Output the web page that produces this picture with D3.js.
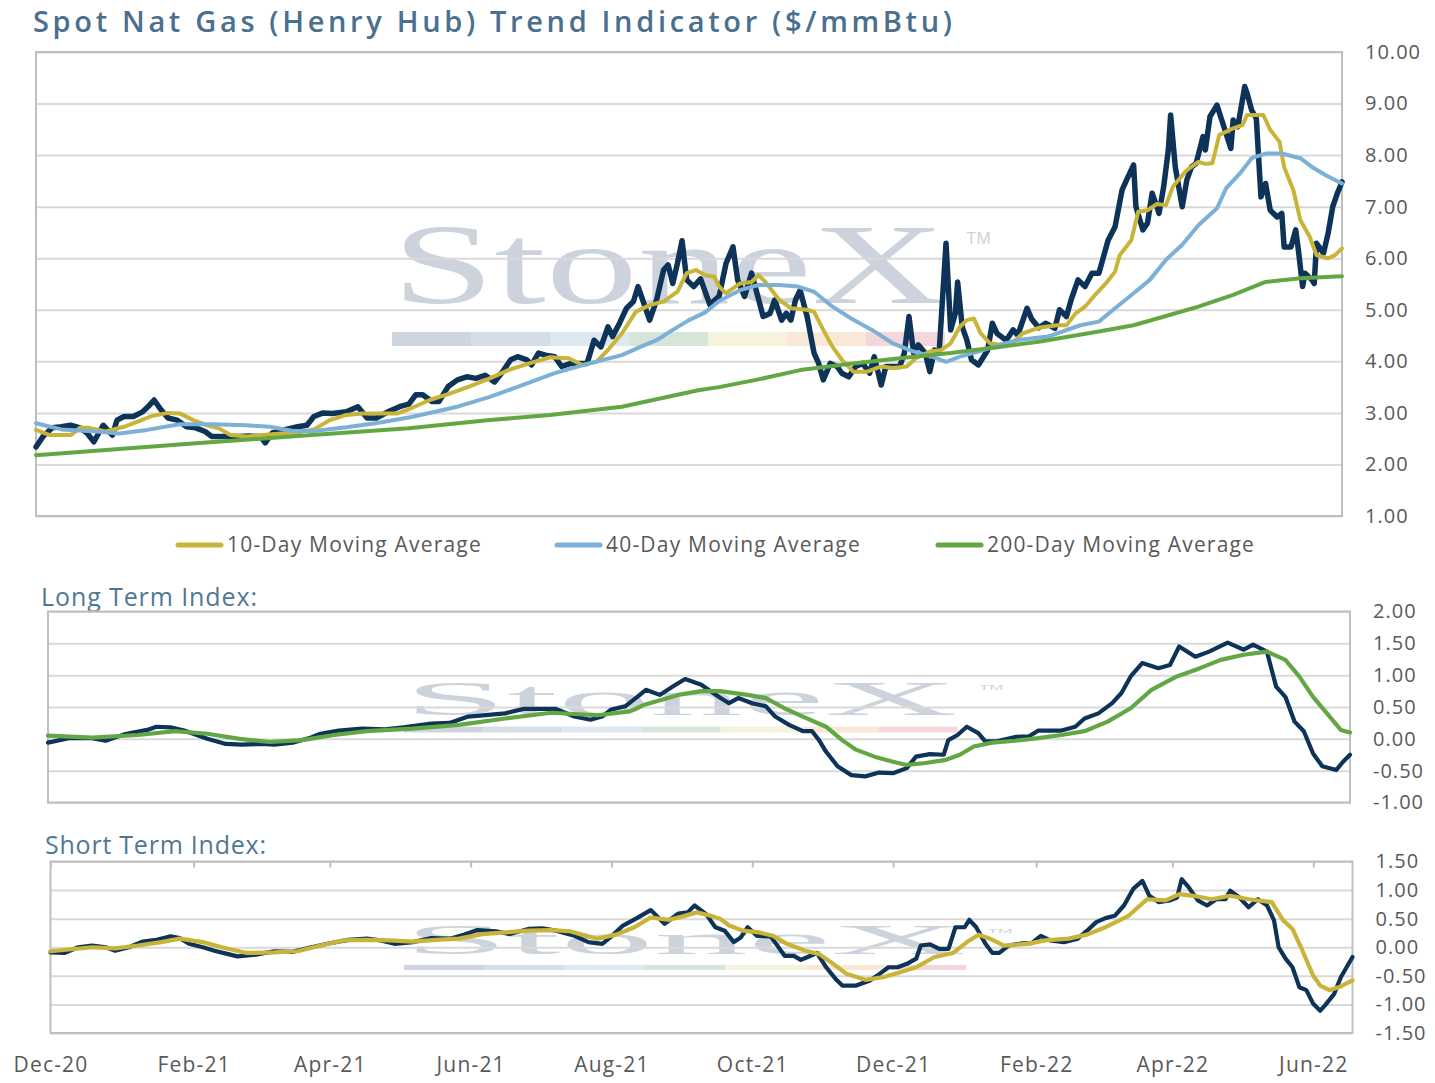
<!DOCTYPE html>
<html>
<head>
<meta charset="utf-8">
<title>Spot Nat Gas (Henry Hub) Trend Indicator</title>
<script src="https://cdn.jsdelivr.net/npm/d3@7"></script>
<style>
	body { margin: 0; background: #fff; }
	svg { display: block; font-family: "Open Sans", sans-serif; }
</style>
</head>
<body>
<div id="container"></div>
<script>

// ==============
//	DATA
// ==============

var spotPrice = [
	["2020-12-01",2.34],["2020-12-04",2.54],["2020-12-08",2.71],["2020-12-12",2.73],["2020-12-16",2.76],["2020-12-20",2.71],
	["2020-12-23",2.61],["2020-12-26",2.44],["2020-12-30",2.76],["2021-01-03",2.57],["2021-01-05",2.86],["2021-01-08",2.93],
	["2021-01-12",2.93],["2021-01-16",3.02],["2021-01-19",3.15],["2021-01-21",3.25],["2021-01-24",3.06],["2021-01-27",2.90],
	["2021-01-31",2.86],["2021-02-04",2.73],["2021-02-08",2.71],["2021-02-12",2.64],["2021-02-15",2.54],["2021-02-20",2.54],
	["2021-02-26",2.54],["2021-03-03",2.55],["2021-03-08",2.54],["2021-03-10",2.42],["2021-03-13",2.61],["2021-03-18",2.67],
	["2021-03-24",2.73],["2021-03-28",2.76],["2021-03-31",2.93],["2021-04-04",3.00],["2021-04-08",2.99],["2021-04-14",3.02],
	["2021-04-19",3.12],["2021-04-23",2.90],["2021-04-27",2.90],["2021-05-02",3.02],["2021-05-07",3.12],["2021-05-11",3.17],
	["2021-05-14",3.35],["2021-05-17",3.35],["2021-05-21",3.22],["2021-05-24",3.22],["2021-05-28",3.51],["2021-06-01",3.64],
	["2021-06-05",3.70],["2021-06-09",3.67],["2021-06-13",3.73],["2021-06-17",3.60],["2021-06-20",3.77],["2021-06-24",4.03],
	["2021-06-27",4.09],["2021-07-01",4.03],["2021-07-03",3.93],["2021-07-06",4.16],["2021-07-09",4.12],["2021-07-13",4.09],
	["2021-07-16",3.90],["2021-07-20",3.96],["2021-07-24",3.96],["2021-07-27",3.96],["2021-07-30",4.41],["2021-08-02",4.28],
	["2021-08-05",4.67],["2021-08-07",4.48],["2021-08-10",4.74],["2021-08-13",5.03],["2021-08-16",5.16],["2021-08-18",5.45],
	["2021-08-20",5.19],["2021-08-23",4.80],["2021-08-26",5.19],["2021-08-29",5.77],["2021-08-31",5.87],["2021-09-02",5.51],
	["2021-09-04",5.90],["2021-09-06",6.34],["2021-09-08",5.58],["2021-09-11",5.45],["2021-09-14",5.60],["2021-09-18",5.10],
	["2021-09-22",5.26],["2021-09-25",5.90],["2021-09-28",6.22],["2021-09-30",5.58],["2021-10-03",5.26],["2021-10-06",5.71],
	["2021-10-08",5.38],["2021-10-11",4.87],["2021-10-14",4.93],["2021-10-16",5.19],["2021-10-19",4.80],["2021-10-21",4.93],
	["2021-10-23",4.80],["2021-10-25",5.19],["2021-10-27",5.38],["2021-10-30",4.87],["2021-11-02",4.16],["2021-11-04",3.96],
	["2021-11-06",3.64],["2021-11-09",3.96],["2021-11-12",3.90],["2021-11-14",3.77],["2021-11-17",3.70],["2021-11-20",3.90],
	["2021-11-23",3.96],["2021-11-26",3.77],["2021-11-28",4.09],["2021-12-01",3.54],["2021-12-03",3.90],["2021-12-06",3.90],
	["2021-12-09",3.90],["2021-12-11",4.16],["2021-12-13",4.87],["2021-12-15",4.16],["2021-12-17",4.32],["2021-12-20",4.16],
	["2021-12-22",3.80],["2021-12-24",4.22],["2021-12-26",4.16],["2021-12-29",6.29],["2021-12-31",4.61],["2022-01-02",4.93],
	["2022-01-03",5.54],["2022-01-05",4.67],["2022-01-07",4.41],["2022-01-09",4.03],["2022-01-12",3.93],["2022-01-16",4.22],
	["2022-01-18",4.74],["2022-01-20",4.54],["2022-01-24",4.41],["2022-01-27",4.61],["2022-01-29",4.51],["2022-02-02",5.03],
	["2022-02-04",4.82],["2022-02-07",4.65],["2022-02-10",4.74],["2022-02-14",4.64],["2022-02-16",5.00],["2022-02-19",4.87],
	["2022-02-21",5.19],["2022-02-24",5.58],["2022-02-27",5.45],["2022-03-02",5.71],["2022-03-05",5.71],["2022-03-07",6.03],
	["2022-03-09",6.35],["2022-03-12",6.61],["2022-03-15",7.32],["2022-03-17",7.52],["2022-03-20",7.81],["2022-03-21",7.00],
	["2022-03-24",6.55],["2022-03-26",6.68],["2022-03-28",7.26],["2022-03-31",6.87],["2022-04-02",7.39],["2022-04-04",8.10],
	["2022-04-05",8.78],["2022-04-07",7.77],["2022-04-10",7.00],["2022-04-12",7.52],["2022-04-14",7.77],["2022-04-16",7.84],
	["2022-04-19",8.36],["2022-04-20",8.10],["2022-04-22",8.75],["2022-04-25",8.97],["2022-04-28",8.55],["2022-05-01",8.13],
	["2022-05-02",8.68],["2022-05-04",8.55],["2022-05-06",9.07],["2022-05-07",9.33],["2022-05-08",9.20],["2022-05-10",8.87],
	["2022-05-12",8.71],["2022-05-14",7.19],["2022-05-16",7.45],["2022-05-18",6.93],["2022-05-21",6.80],["2022-05-23",6.87],
	["2022-05-24",6.22],["2022-05-27",6.22],["2022-05-29",6.55],["2022-05-30",6.22],["2022-06-01",5.45],["2022-06-02",5.71],
	["2022-06-05",5.58],["2022-06-06",5.51],["2022-06-07",6.29],["2022-06-10",6.10],["2022-06-12",6.48],["2022-06-13",6.74],
	["2022-06-14",7.00],["2022-06-16",7.26],["2022-06-18",7.48]
];

var ma10 = [
	["2020-12-01",2.67],["2020-12-07",2.57],["2020-12-16",2.57],["2020-12-20",2.71],["2020-12-24",2.71],["2020-12-31",2.64],
	["2021-01-08",2.73],["2021-01-15",2.85],["2021-01-20",2.94],["2021-01-27",3.00],["2021-02-01",2.99],["2021-02-07",2.86],
	["2021-02-13",2.76],["2021-02-18",2.70],["2021-02-23",2.57],["2021-03-02",2.54],["2021-03-09",2.57],["2021-03-17",2.60],
	["2021-03-24",2.62],["2021-03-31",2.68],["2021-04-07",2.86],["2021-04-14",2.96],["2021-04-21",2.99],["2021-04-28",2.99],
	["2021-05-06",2.99],["2021-05-11",3.07],["2021-05-20",3.25],["2021-05-29",3.38],["2021-06-06",3.51],["2021-06-15",3.67],
	["2021-06-23",3.83],["2021-07-02",3.96],["2021-07-11",4.08],["2021-07-19",4.06],["2021-07-25",3.93],["2021-07-31",3.99],
	["2021-08-05",4.22],["2021-08-11",4.54],["2021-08-17",4.96],["2021-08-23",5.09],["2021-08-29",5.16],["2021-09-04",5.35],
	["2021-09-08",5.71],["2021-09-12",5.77],["2021-09-16",5.67],["2021-09-20",5.64],["2021-09-22",5.45],["2021-09-25",5.32],
	["2021-10-01",5.51],["2021-10-06",5.54],["2021-10-09",5.67],["2021-10-12",5.54],["2021-10-18",5.19],["2021-10-23",5.03],
	["2021-10-30",5.00],["2021-11-02",4.96],["2021-11-06",4.61],["2021-11-10",4.28],["2021-11-14",4.03],["2021-11-19",3.80],
	["2021-11-25",3.80],["2021-12-01",3.90],["2021-12-06",3.87],["2021-12-12",3.90],["2021-12-16",4.06],["2021-12-22",4.19],
	["2021-12-27",4.22],["2021-12-31",4.35],["2022-01-04",4.67],["2022-01-07",4.80],["2022-01-10",4.83],["2022-01-13",4.54],
	["2022-01-17",4.35],["2022-01-21",4.32],["2022-01-25",4.35],["2022-01-28",4.41],["2022-01-31",4.54],["2022-02-07",4.65],
	["2022-02-15",4.70],["2022-02-19",4.70],["2022-02-23",4.93],["2022-02-27",5.06],["2022-03-04",5.32],["2022-03-08",5.51],
	["2022-03-12",5.74],["2022-03-14",6.06],["2022-03-19",6.35],["2022-03-22",6.90],["2022-03-26",6.93],["2022-03-30",7.05],
	["2022-04-03",7.03],["2022-04-06",7.39],["2022-04-12",7.71],["2022-04-17",7.87],["2022-04-20",7.83],["2022-04-23",7.84],
	["2022-04-26",8.39],["2022-05-02",8.52],["2022-05-06",8.58],["2022-05-08",8.78],["2022-05-15",8.78],["2022-05-18",8.49],
	["2022-05-22",8.26],["2022-05-24",7.77],["2022-05-28",7.32],["2022-05-31",6.74],["2022-06-04",6.42],["2022-06-07",6.06],
	["2022-06-12",6.00],["2022-06-15",6.06],["2022-06-18",6.19]
];

var ma40 = [
	["2020-12-01",2.80],["2020-12-12",2.68],["2020-12-27",2.64],["2021-01-06",2.60],["2021-01-18",2.67],["2021-02-01",2.78],
	["2021-02-15",2.78],["2021-03-02",2.76],["2021-03-12",2.73],["2021-03-22",2.65],["2021-03-31",2.65],["2021-04-14",2.72],
	["2021-04-28",2.81],["2021-05-11",2.91],["2021-05-17",2.97],["2021-06-01",3.12],["2021-06-15",3.31],["2021-06-29",3.54],
	["2021-07-13",3.77],["2021-07-28",3.96],["2021-08-11",4.12],["2021-08-19",4.28],["2021-08-26",4.41],["2021-09-02",4.61],
	["2021-09-09",4.80],["2021-09-16",4.95],["2021-09-22",5.17],["2021-10-01",5.38],["2021-10-09",5.48],["2021-10-18",5.48],
	["2021-10-26",5.45],["2021-11-02",5.35],["2021-11-10",5.06],["2021-11-18",4.83],["2021-11-27",4.61],["2021-12-06",4.35],
	["2021-12-15",4.19],["2021-12-23",4.09],["2021-12-29",3.99],["2022-01-04",4.09],["2022-01-12",4.19],["2022-01-21",4.32],
	["2022-01-30",4.42],["2022-02-11",4.48],["2022-02-25",4.70],["2022-03-05",4.77],["2022-03-12",5.03],["2022-03-20",5.32],
	["2022-03-27",5.58],["2022-04-03",5.97],["2022-04-10",6.26],["2022-04-17",6.64],["2022-04-25",6.97],["2022-04-29",7.36],
	["2022-05-05",7.65],["2022-05-10",7.94],["2022-05-16",8.03],["2022-05-23",8.03],["2022-05-31",7.94],["2022-06-05",7.77],
	["2022-06-11",7.61],["2022-06-18",7.45]
];

var ma200 = [
	["2020-12-01",2.18],["2021-02-11",2.42],["2021-03-24",2.55],["2021-05-11",2.70],["2021-06-15",2.86],["2021-07-11",2.96],
	["2021-08-11",3.12],["2021-09-13",3.44],["2021-09-22",3.50],["2021-10-09",3.65],["2021-10-27",3.83],["2021-11-17",3.95],
	["2021-12-09",4.06],["2021-12-31",4.16],["2022-01-21",4.28],["2022-02-07",4.38],["2022-03-05",4.58],["2022-03-20",4.70],
	["2022-04-03",4.88],["2022-04-17",5.06],["2022-05-02",5.29],["2022-05-16",5.54],["2022-05-31",5.61],["2022-06-18",5.65]
];

var longIndex = [
	["2020-12-01",-0.06],["2020-12-10",0.01],["2020-12-20",0.01],["2020-12-26",-0.03],["2021-01-03",0.07],["2021-01-13",0.14],
	["2021-01-17",0.19],["2021-01-23",0.18],["2021-01-29",0.13],["2021-02-08",0.00],["2021-02-16",-0.08],["2021-02-23",-0.09],
	["2021-03-04",-0.08],["2021-03-09",-0.09],["2021-03-17",-0.06],["2021-03-25",0.02],["2021-03-29",0.08],["2021-04-06",0.13],
	["2021-04-16",0.16],["2021-04-26",0.15],["2021-05-04",0.18],["2021-05-16",0.24],["2021-05-24",0.25],["2021-06-01",0.35],
	["2021-06-11",0.38],["2021-06-17",0.40],["2021-06-25",0.47],["2021-07-09",0.47],["2021-07-17",0.35],["2021-07-24",0.30],
	["2021-07-29",0.35],["2021-08-02",0.46],["2021-08-08",0.51],["2021-08-13",0.65],["2021-08-17",0.77],["2021-08-23",0.69],
	["2021-08-29",0.83],["2021-09-03",0.94],["2021-09-10",0.85],["2021-09-18",0.65],["2021-09-22",0.56],["2021-09-26",0.64],
	["2021-10-02",0.56],["2021-10-08",0.51],["2021-10-12",0.35],["2021-10-18",0.22],["2021-10-24",0.12],["2021-10-28",0.12],
	["2021-10-31",-0.02],["2021-11-03",-0.20],["2021-11-08",-0.43],["2021-11-14",-0.57],["2021-11-20",-0.59],["2021-11-26",-0.53],
	["2021-12-02",-0.54],["2021-12-08",-0.46],["2021-12-12",-0.28],["2021-12-18",-0.24],["2021-12-24",-0.25],["2021-12-26",-0.02],
	["2021-12-30",0.06],["2022-01-03",0.19],["2022-01-08",0.09],["2022-01-11",-0.04],["2022-01-16",-0.04],["2022-01-24",0.03],
	["2022-01-30",0.04],["2022-02-03",0.13],["2022-02-13",0.13],["2022-02-19",0.19],["2022-02-23",0.32],["2022-03-01",0.40],
	["2022-03-07",0.56],["2022-03-11",0.72],["2022-03-15",0.98],["2022-03-20",1.19],["2022-03-27",1.11],["2022-04-01",1.16],
	["2022-04-05",1.45],["2022-04-12",1.29],["2022-04-18",1.37],["2022-04-26",1.51],["2022-05-03",1.40],["2022-05-07",1.48],
	["2022-05-13",1.37],["2022-05-17",0.82],["2022-05-21",0.66],["2022-05-25",0.27],["2022-05-29",0.12],["2022-06-02",-0.23],
	["2022-06-06",-0.43],["2022-06-12",-0.49],["2022-06-15",-0.36],["2022-06-18",-0.25]
];

var longSignal = [
	["2020-12-01",0.05],["2020-12-20",0.02],["2021-01-09",0.06],["2021-01-25",0.12],["2021-02-08",0.08],["2021-02-22",0.00],
	["2021-03-07",-0.05],["2021-03-21",-0.02],["2021-04-04",0.06],["2021-04-18",0.12],["2021-05-08",0.16],["2021-05-28",0.22],
	["2021-06-17",0.32],["2021-07-07",0.41],["2021-07-27",0.37],["2021-08-10",0.43],["2021-08-16",0.53],["2021-08-31",0.69],
	["2021-09-10",0.75],["2021-09-18",0.75],["2021-09-30",0.69],["2021-10-08",0.64],["2021-10-16",0.48],["2021-10-24",0.35],
	["2021-11-03",0.19],["2021-11-10",-0.02],["2021-11-16",-0.17],["2021-11-24",-0.28],["2021-12-02",-0.36],["2021-12-08",-0.41],
	["2021-12-16",-0.38],["2021-12-25",-0.33],["2021-12-31",-0.25],["2022-01-06",-0.12],["2022-01-14",-0.06],["2022-01-24",-0.03],
	["2022-02-03",0.01],["2022-02-13",0.06],["2022-02-23",0.12],["2022-03-05",0.27],["2022-03-15",0.48],["2022-03-24",0.77],
	["2022-04-04",0.98],["2022-04-14",1.11],["2022-04-23",1.24],["2022-05-03",1.32],["2022-05-13",1.37],["2022-05-21",1.24],
	["2022-05-27",0.98],["2022-06-02",0.66],["2022-06-08",0.40],["2022-06-14",0.14],["2022-06-18",0.10]
];

var shortIndex = [
	["2020-12-01",-0.09],["2020-12-07",-0.10],["2020-12-13",0.00],["2020-12-19",0.03],["2020-12-25",0.00],["2020-12-29",-0.06],
	["2021-01-04",0.00],["2021-01-10",0.10],["2021-01-16",0.13],["2021-01-22",0.19],["2021-01-26",0.16],["2021-01-30",0.06],
	["2021-02-05",0.00],["2021-02-10",-0.06],["2021-02-16",-0.12],["2021-02-20",-0.16],["2021-02-28",-0.13],["2021-03-08",-0.07],
	["2021-03-16",-0.08],["2021-03-24",0.00],["2021-04-01",0.07],["2021-04-09",0.13],["2021-04-17",0.15],["2021-04-23",0.12],
	["2021-04-29",0.06],["2021-05-07",0.09],["2021-05-15",0.16],["2021-05-23",0.15],["2021-05-29",0.22],["2021-06-04",0.30],
	["2021-06-12",0.28],["2021-06-18",0.23],["2021-06-26",0.32],["2021-07-02",0.33],["2021-07-08",0.29],["2021-07-16",0.20],
	["2021-07-22",0.09],["2021-07-28",0.06],["2021-08-01",0.19],["2021-08-06",0.38],["2021-08-12",0.51],["2021-08-18",0.65],
	["2021-08-24",0.41],["2021-08-30",0.59],["2021-09-03",0.61],["2021-09-06",0.73],["2021-09-11",0.58],["2021-09-15",0.35],
	["2021-09-19",0.29],["2021-09-23",0.09],["2021-09-26",0.17],["2021-09-29",0.35],["2021-10-03",0.20],["2021-10-09",0.19],
	["2021-10-15",-0.15],["2021-10-19",-0.15],["2021-10-22",-0.22],["2021-10-25",-0.17],["2021-10-29",-0.10],["2021-11-02",-0.35],
	["2021-11-06",-0.55],["2021-11-09",-0.67],["2021-11-15",-0.67],["2021-11-21",-0.58],["2021-11-25",-0.47],["2021-11-29",-0.35],
	["2021-12-03",-0.35],["2021-12-07",-0.29],["2021-12-11",-0.20],["2021-12-13",0.03],["2021-12-17",0.05],["2021-12-21",-0.03],
	["2021-12-25",-0.03],["2021-12-28",0.35],["2022-01-01",0.35],["2022-01-03",0.48],["2022-01-06",0.35],["2022-01-10",0.06],
	["2022-01-13",-0.10],["2022-01-16",-0.10],["2022-01-20",0.03],["2022-01-26",0.07],["2022-01-30",0.07],["2022-02-03",0.20],
	["2022-02-07",0.12],["2022-02-13",0.09],["2022-02-19",0.15],["2022-02-23",0.29],["2022-02-27",0.44],["2022-03-03",0.51],
	["2022-03-07",0.55],["2022-03-11",0.73],["2022-03-15",1.02],["2022-03-19",1.16],["2022-03-22",0.90],["2022-03-26",0.79],
	["2022-03-31",0.82],["2022-04-03",0.87],["2022-04-05",1.19],["2022-04-08",1.05],["2022-04-12",0.82],["2022-04-16",0.73],
	["2022-04-20",0.84],["2022-04-24",0.84],["2022-04-26",0.99],["2022-04-30",0.87],["2022-05-04",0.70],["2022-05-08",0.84],
	["2022-05-12",0.73],["2022-05-15",0.47],["2022-05-17",0.00],["2022-05-20",-0.20],["2022-05-23",-0.35],["2022-05-26",-0.70],
	["2022-05-29",-0.75],["2022-06-01",-0.99],["2022-06-04",-1.11],["2022-06-06",-1.02],["2022-06-10",-0.82],["2022-06-13",-0.52],
	["2022-06-18",-0.17]
];

var shortSignal = [
	["2020-12-01",-0.07],["2020-12-19",0.00],["2020-12-29",-0.02],["2021-01-08",0.03],["2021-01-18",0.09],["2021-01-26",0.15],
	["2021-02-05",0.09],["2021-02-14",-0.01],["2021-02-24",-0.10],["2021-03-08",-0.09],["2021-03-18",-0.07],["2021-03-28",0.03],
	["2021-04-07",0.12],["2021-04-17",0.13],["2021-04-27",0.12],["2021-05-07",0.10],["2021-05-17",0.13],["2021-05-27",0.15],
	["2021-06-06",0.23],["2021-06-16",0.26],["2021-06-26",0.29],["2021-07-06",0.30],["2021-07-14",0.28],["2021-07-22",0.19],
	["2021-07-26",0.15],["2021-08-03",0.22],["2021-08-11",0.35],["2021-08-18",0.52],["2021-08-26",0.48],["2021-09-01",0.54],
	["2021-09-07",0.61],["2021-09-13",0.55],["2021-09-17",0.50],["2021-09-21",0.38],["2021-09-27",0.29],["2021-10-04",0.26],
	["2021-10-10",0.20],["2021-10-16",0.06],["2021-10-24",-0.06],["2021-10-30",-0.12],["2021-11-05",-0.29],["2021-11-11",-0.47],
	["2021-11-19",-0.57],["2021-11-27",-0.52],["2021-12-03",-0.45],["2021-12-11",-0.35],["2021-12-19",-0.17],["2021-12-27",-0.10],
	["2022-01-02",0.09],["2022-01-07",0.22],["2022-01-12",0.15],["2022-01-18",0.03],["2022-01-28",0.06],["2022-02-05",0.12],
	["2022-02-15",0.15],["2022-02-23",0.22],["2022-03-03",0.35],["2022-03-13",0.55],["2022-03-21",0.84],["2022-03-29",0.82],
	["2022-04-04",0.93],["2022-04-10",0.90],["2022-04-18",0.84],["2022-04-26",0.90],["2022-05-04",0.84],["2022-05-14",0.79],
	["2022-05-19",0.47],["2022-05-23",0.32],["2022-05-27",-0.03],["2022-06-01",-0.50],["2022-06-04",-0.67],["2022-06-08",-0.75],
	["2022-06-12",-0.70],["2022-06-18",-0.58]
];

var dateRange = ["2020-12-01", "2022-06-18"];
var monthTicks = ["2020-12-01","2021-02-01","2021-04-01","2021-06-01","2021-08-01","2021-10-01",
	"2021-12-01","2022-02-01","2022-04-01","2022-06-01"];
var priceTicks = [1, 2, 3, 4, 5, 6, 7, 8, 9, 10];
var longTicks = [-1, -0.5, 0, 0.5, 1, 1.5, 2];
var shortTicks = [-1.5, -1, -0.5, 0, 0.5, 1, 1.5];
var legendLabels = ["10-Day Moving Average", "40-Day Moving Average", "200-Day Moving Average"];

// ==============
//	OPTIONS
// ==============

var width = 1435, height = 1083;

var	colPrice = "#0d3458",
	colTen = "#c9b43a",
	colForty = "#7cb0d6",
	colTwoHundred = "#63a745",
	colGrid = "#d9d9d9",
	colFrame = "#bfbfbf",
	colText = "#595959",
	colTitle = "#4b6f8e",
	colLogo = "#cdd3dc";

var logoBand = ["#cfd5de", "#d5dde7", "#dde8f1", "#d6e5d9", "#f6f3dc", "#f9e7d7", "#f4d7db"];

// frame of each panel (px) and the stretched StoneX logo behind it
var layout = {
	price: {left: 36, right: 1342, top: 52, bottom: 516, logo: {x: 390, y: 225, w: 605, h: 121}},
	long: {left: 48, right: 1350, top: 611.5, bottom: 802.5, logo: {x: 402, y: 682, w: 606, h: 50.5}},
	short: {left: 50.5, right: 1352.5, top: 861.5, bottom: 1033, logo: {x: 402, y: 926, w: 615, h: 44}}
};
var legendX = [176, 555, 936], legendY = 545;

// ==============
//	DRAW
// ==============

var parseDate = d3.timeParse("%Y-%m-%d"),
	fmtMonth = d3.timeFormat("%b-%y"),
	toPoints = rows => rows.map(r => ({date: parseDate(r[0]), value: r[1]})),
	xDomain = dateRange.map(parseDate),
	tickDates = monthTicks.map(parseDate);

var svg = d3.select("#container").append("svg")
	.attr("width", width)
	.attr("height", height);

// titles
svg.append("text")
	.attr("x", 33).attr("y", 32)
	.attr("textLength", 919).attr("lengthAdjust", "spacing")
	.style("font", "600 29px 'Open Sans', sans-serif")
	.style("fill", colTitle)
	.text("Spot Nat Gas (Henry Hub) Trend Indicator ($/mmBtu)");

svg.append("text")
	.attr("x", 41).attr("y", 606)
	.attr("textLength", 216).attr("lengthAdjust", "spacing")
	.style("font", "25px 'Open Sans', sans-serif")
	.style("fill", "#4f7895")
	.text("Long Term Index:");

svg.append("text")
	.attr("x", 45).attr("y", 854)
	.attr("textLength", 221).attr("lengthAdjust", "spacing")
	.style("font", "25px 'Open Sans', sans-serif")
	.style("fill", "#4f7895")
	.text("Short Term Index:");

drawPanel(layout.price, [1, 10], priceTicks, [
	{data: spotPrice, color: colPrice, width: 5.5},
	{data: ma10, color: colTen, width: 4},
	{data: ma40, color: colForty, width: 4},
	{data: ma200, color: colTwoHundred, width: 4}
]);

drawPanel(layout.long, [-1, 2], longTicks, [
	{data: longIndex, color: colPrice, width: 4.2},
	{data: longSignal, color: colTwoHundred, width: 4.2}
]);

var shortX = drawPanel(layout.short, [-1.5, 1.5], shortTicks, [
	{data: shortIndex, color: colPrice, width: 4.2},
	{data: shortSignal, color: colTen, width: 4.2}
]);

// short panel carries the date axis: small ticks along its top, labels below it
svg.append("g")
	.attr("transform", "translate(0," + layout.short.top + ")")
	.call(d3.axisBottom(shortX).tickValues(tickDates).tickSize(6).tickFormat(""))
	.call(g => g.select(".domain").remove())
	.call(g => g.selectAll("line").attr("stroke", colFrame).attr("stroke-width", 2));

svg.append("g")
	.attr("transform", "translate(0," + layout.short.bottom + ")")
	.call(d3.axisBottom(shortX).tickValues(tickDates).tickSize(0).tickPadding(24).tickFormat(fmtMonth))
	.call(g => g.select(".domain").remove())
	.call(g => g.selectAll("text")
		.style("font", "21px 'Open Sans', sans-serif")
		.style("letter-spacing", "1.2px")
		.attr("fill", colText));

// legend
var legendColors = [colTen, colForty, colTwoHundred];
var legend = svg.append("g")
	.selectAll("g")
	.data(legendLabels)
	.join("g")
		.attr("transform", (d, i) => "translate(" + legendX[i] + "," + legendY + ")");

legend.append("line")
	.attr("x1", 2).attr("x2", 45)
	.attr("stroke", (d, i) => legendColors[i])
	.attr("stroke-linecap", "round")
	.attr("stroke-width", 5);

legend.append("text")
	.attr("x", 51)
	.attr("dy", "0.35em")
	.style("font", "21px 'Open Sans', sans-serif")
	.style("letter-spacing", "1.2px")
	.style("fill", colText)
	.text(d => d);

// ==============
//	FUNCTIONS
// ==============

function drawPanel(p, yDomain, ticks, series) {

	var x = d3.scaleTime().domain(xDomain).range([p.left, p.right]),
		y = d3.scaleLinear().domain(yDomain).range([p.bottom, p.top]);

	var g = svg.append("g");

	watermark(g, p.logo);

	// gridlines
	g.append("g")
		.attr("transform", "translate(" + p.left + ",0)")
		.call(d3.axisRight(y).tickValues(ticks).tickSize(p.right - p.left).tickFormat(""))
		.call(s => s.select(".domain").remove())
		.call(s => s.selectAll("line").attr("stroke", colGrid).attr("stroke-width", 2));

	// frame
	g.append("rect")
		.attr("x", p.left).attr("y", p.top)
		.attr("width", p.right - p.left).attr("height", p.bottom - p.top)
		.attr("fill", "none")
		.attr("stroke", colFrame)
		.attr("stroke-width", 2);

	// value labels on the right, left aligned like the original
	g.append("g")
		.attr("transform", "translate(" + p.right + ",0)")
		.call(d3.axisRight(y).tickValues(ticks).tickSize(0).tickPadding(23).tickFormat(d => d.toFixed(2)))
		.call(s => s.select(".domain").remove())
		.call(s => s.selectAll("text")
			.style("font", "20px 'Open Sans', sans-serif")
			.style("letter-spacing", "1px")
			.attr("fill", colText));

	var line = d3.line()
		.x(d => x(d.date))
		.y(d => y(d.value));

	g.append("g")
		.attr("fill", "none")
		.attr("stroke-linejoin", "round")
		.attr("stroke-linecap", "round")
		.selectAll("path")
			.data(series)
			.join("path")
			.attr("stroke", d => d.color)
			.attr("stroke-width", d => d.width)
			.attr("d", d => line(toPoints(d.data)));

	return x;
}

// StoneX logo, drawn in a 605 x 121 box and stretched into the panel
function watermark(g, box) {

	var wm = g.append("g")
		.attr("transform", "translate(" + box.x + "," + box.y + ") scale(" + (box.w / 605) + "," + (box.h / 121) + ")");

	wm.append("text")
		.attr("x", 2).attr("y", 78)
		.attr("textLength", 553).attr("lengthAdjust", "spacingAndGlyphs")
		.style("font", "115px 'Liberation Serif', serif")
		.style("fill", colLogo)
		.text("StoneX");

	wm.append("text")
		.attr("x", 576).attr("y", 19)
		.style("font", "17px 'Liberation Sans', sans-serif")
		.style("fill", colLogo)
		.text("TM");

	wm.selectAll("rect")
		.data(logoBand)
		.join("rect")
		.attr("x", (d, i) => 2 + i * 79)
		.attr("y", 107)
		.attr("width", 79)
		.attr("height", 14)
		.attr("fill", d => d);
};

</script>
</body>
</html>
